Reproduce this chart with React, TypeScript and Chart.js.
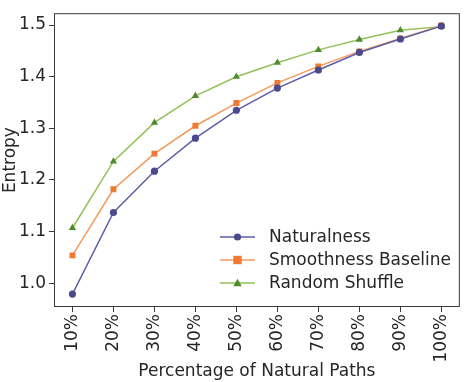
import React, { useEffect, useRef } from "react";
import { Chart, registerables } from "chart.js";

Chart.register(...registerables);

const categories = ["10%", "20%", "30%", "40%", "50%", "60%", "70%", "80%", "90%", "100%"];
const naturalness = [0.979, 1.137, 1.217, 1.281, 1.335, 1.378, 1.413, 1.447, 1.473, 1.498];
const smoothnessBaseline = [1.054, 1.182, 1.251, 1.305, 1.349, 1.388, 1.420, 1.449, 1.474, 1.499];
const randomShuffle = [1.107, 1.236, 1.311, 1.363, 1.400, 1.427, 1.452, 1.472, 1.490, 1.497];
const yTicks = [1.0, 1.1, 1.2, 1.3, 1.4, 1.5];

const FONT = "'DejaVu Sans', sans-serif";
const TEXT = "#262626";
const FS = 17;

const seriesStyle = [
  { label: "Naturalness", data: naturalness, line: "#5d5ea8", marker: "#4b4a8f", shape: "circle", r: 3.6 },
  { label: "Smoothness Baseline", data: smoothnessBaseline, line: "#f39a5c", marker: "#f07a33", shape: "rect", r: 4.2 },
  { label: "Random Shuffle", data: randomShuffle, line: "#92c157", marker: "#4f8a2f", shape: "triangle", r: 4.2 },
];

// Axes frame on all four sides of the plot area
const framePlugin = {
  id: "frame",
  afterDatasetsDraw(chart: any) {
    const { ctx, chartArea: a } = chart;
    ctx.save();
    ctx.strokeStyle = "#3a3a3a";
    ctx.lineWidth = 1;
    ctx.strokeRect(a.left + 0.5, a.top + 0.5, a.right - a.left - 1, a.bottom - a.top - 1);
    ctx.restore();
  },
};

// Legend drawn inside the lower-right corner of the plot area
const insideLegendPlugin = {
  id: "insideLegend",
  afterDraw(chart: any) {
    const { ctx } = chart;
    const x0 = 220;
    const y0 = 237;
    const rowH = 23;
    ctx.save();
    seriesStyle.forEach((s, i) => {
      const y = y0 + i * rowH;
      ctx.strokeStyle = s.line;
      ctx.lineWidth = 1.5;
      ctx.beginPath();
      ctx.moveTo(x0, y);
      ctx.lineTo(x0 + 35, y);
      ctx.stroke();
      ctx.fillStyle = s.marker;
      const cx = x0 + 17.5;
      if (s.shape === "circle") {
        ctx.beginPath();
        ctx.arc(cx, y, s.r, 0, Math.PI * 2);
        ctx.fill();
      } else if (s.shape === "rect") {
        ctx.fillRect(cx - s.r, y - s.r, s.r * 2, s.r * 2);
      } else {
        ctx.beginPath();
        ctx.moveTo(cx, y - s.r);
        ctx.lineTo(cx + s.r, y + s.r * 0.75);
        ctx.lineTo(cx - s.r, y + s.r * 0.75);
        ctx.closePath();
        ctx.fill();
      }
      ctx.fillStyle = TEXT;
      ctx.font = `${FS}px ${FONT}`;
      ctx.textBaseline = "middle";
      ctx.textAlign = "left";
      ctx.fillText(s.label, x0 + 49, y + 1);
    });
    ctx.restore();
  },
};

export default function App() {
  const canvasRef = useRef<HTMLCanvasElement | null>(null);

  useEffect(() => {
    document.body.style.margin = "0";
    const canvas = canvasRef.current;
    if (!canvas) return;
    const chart = new Chart(canvas, {
      type: "line",
      data: {
        datasets: seriesStyle.map((s) => ({
          label: s.label,
          data: s.data.map((v, i) => ({ x: i, y: v })),
          borderColor: s.line,
          backgroundColor: s.marker,
          pointBackgroundColor: s.marker,
          pointBorderColor: s.marker,
          pointBorderWidth: 0,
          pointStyle: s.shape as any,
          pointRadius: s.r,
          borderWidth: 1.5,
          tension: 0,
          fill: false,
        })),
      },
      options: {
        animation: false,
        responsive: false,
        maintainAspectRatio: false,
        layout: { padding: { top: 8, right: 3, left: 0, bottom: 0 } },
        plugins: {
          legend: { display: false },
          tooltip: { enabled: false },
        },
        scales: {
          x: {
            type: "linear",
            min: -0.45,
            max: categories.length - 1 + 0.45,
            grid: {
              display: true,
              drawOnChartArea: false,
              drawTicks: true,
              tickLength: 5,
              color: "#3a3a3a",
            },
            border: { display: false },
            afterBuildTicks(scale: any) {
              scale.ticks = categories.map((_, i) => ({ value: i }));
            },
            ticks: {
              color: TEXT,
              font: { family: FONT, size: FS },
              minRotation: 90,
              maxRotation: 90,
              padding: 2,
              autoSkip: false,
              callback: (v: any) => categories[Math.round(Number(v))] ?? "",
            },
            title: {
              display: true,
              text: "Percentage of Natural Paths",
              color: TEXT,
              font: { family: FONT, size: FS },
              padding: { top: 2, bottom: 0 },
            },
            afterFit(scale: any) {
              scale.height = 75;
            },
          },
          y: {
            type: "linear",
            min: 0.954,
            max: 1.523,
            grid: {
              display: true,
              drawOnChartArea: false,
              drawTicks: true,
              tickLength: 5,
              color: "#3a3a3a",
            },
            border: { display: false },
            afterBuildTicks(scale: any) {
              scale.ticks = yTicks.map((v) => ({ value: v }));
            },
            ticks: {
              color: TEXT,
              font: { family: FONT, size: FS },
              padding: 3,
              callback: (v: any) => Number(v).toFixed(1),
            },
            title: {
              display: true,
              text: "Entropy",
              color: TEXT,
              font: { family: FONT, size: FS },
              padding: { top: 0, bottom: 0 },
            },
            afterFit(scale: any) {
              scale.width = 54;
            },
          },
        },
      },
      plugins: [framePlugin, insideLegendPlugin],
    });
    return () => chart.destroy();
  }, []);

  return (
    <div style={{ width: 464, height: 382, background: "#fff" }}>
      <canvas ref={canvasRef} width={464} height={382} />
    </div>
  );
}
